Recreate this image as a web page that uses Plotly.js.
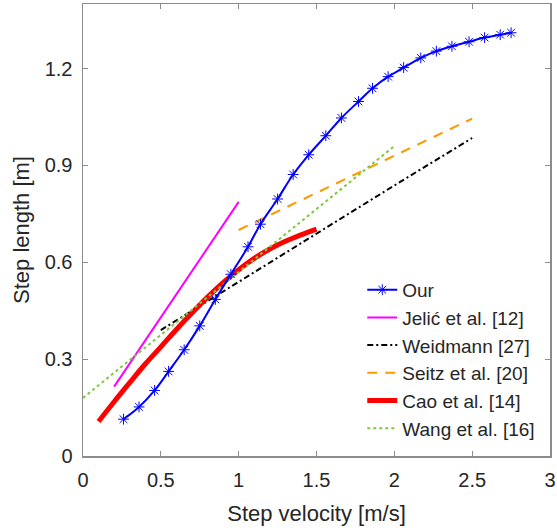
<!DOCTYPE html>
<html>
<head>
<meta charset="utf-8">
<script src="https://cdn.plot.ly/plotly-3.0.1.min.js"></script>
<style>html,body{margin:0;padding:0;background:#fff;}#chart{width:557px;height:530px;}</style>
</head>
<body>
<div id="chart"></div>
<script>
// Our (blue, asterisk markers)
const ourX = [0.26, 0.36, 0.46, 0.55, 0.65, 0.75, 0.85, 0.95, 1.06, 1.14, 1.25, 1.35, 1.45, 1.56, 1.66, 1.77, 1.86, 1.96, 2.06, 2.17, 2.27, 2.37, 2.48, 2.58, 2.68, 2.75];
const ourY = [0.114, 0.152, 0.203, 0.262, 0.329, 0.403, 0.485, 0.563, 0.648, 0.718, 0.796, 0.872, 0.933, 0.992, 1.047, 1.098, 1.139, 1.175, 1.203, 1.233, 1.254, 1.269, 1.283, 1.296, 1.305, 1.311];
// Jelić et al. [12]
const jelicX = [0.2, 1.0];
const jelicY = [0.215, 0.787];
// Weidmann [27]
const weidX = [0.5, 1.0, 1.5, 2.0, 2.5];
const weidY = [0.390, 0.540, 0.690, 0.838, 0.985];
// Seitz et al. [20]
const seitzX = [1.0, 2.5];
const seitzY = [0.700, 1.045];
// Cao et al. [14]
const caoX = [0.1, 0.2, 0.3, 0.4, 0.5, 0.6, 0.7, 0.8, 0.9, 1.0, 1.1, 1.2, 1.3, 1.4, 1.5];
const caoY = [0.107, 0.168, 0.227, 0.285, 0.338, 0.392, 0.443, 0.492, 0.537, 0.577, 0.612, 0.641, 0.665, 0.685, 0.703];
// Wang et al. [16]
const wangX = [0.0, 2.0];
const wangY = [0.180, 0.960];

const names = ['Our', 'Jelić et al. [12]', 'Weidmann [27]', 'Seitz et al. [20]', 'Cao et al. [14]', 'Wang et al. [16]'];
const xTicks = [0, 0.5, 1, 1.5, 2, 2.5, 3];
const yTicks = [0, 0.3, 0.6, 0.9, 1.2];

const FONT = 'Liberation Sans, Arial, sans-serif';

const traces = [
  {x: jelicX, y: jelicY, name: names[1], legendrank: 2, mode: 'lines', line: {color: '#ff00ff', width: 2}},
  {x: weidX, y: weidY, name: names[2], legendrank: 3, mode: 'lines', line: {color: '#000000', width: 2, dash: '6px,3px,2px,3px'}},
  {x: seitzX, y: seitzY, name: names[3], legendrank: 4, mode: 'lines', line: {color: '#ff9900', width: 2, dash: '10px,8px'}},
  {x: caoX, y: caoY, name: names[4], legendrank: 5, mode: 'lines', line: {color: '#ff0000', width: 5, shape: 'spline'}},
  {x: wangX, y: wangY, name: names[5], legendrank: 6, mode: 'lines', line: {color: '#7fc73c', width: 2, dash: 'dot'}},
  {x: ourX, y: ourY, name: names[0], legendrank: 1, mode: 'lines+markers', line: {color: '#0000ff', width: 2, shape: 'spline'},
   marker: {symbol: 'asterisk-open', size: 9, color: '#0000ff', line: {color: '#0000ff', width: 1}}}
];

const axisCommon = {
  showgrid: false, zeroline: false, showline: true, mirror: 'ticks',
  linecolor: '#8c8c8c', linewidth: 1.5, ticks: 'inside', ticklen: 5, tickwidth: 1, tickcolor: '#8c8c8c',
  tickfont: {family: FONT, size: 20, color: '#262626'}
};

const layout = {
  width: 557, height: 530,
  margin: {l: 83, r: 7, t: 4, b: 74},
  paper_bgcolor: '#ffffff', plot_bgcolor: '#ffffff',
  showlegend: true,
  xaxis: Object.assign({}, axisCommon, {
    range: [0, 3], tickvals: xTicks, ticktext: xTicks.map(String), ticklabelstandoff: 5,
    title: {text: 'Step velocity [m/s]', font: {family: FONT, size: 22, color: '#262626'}, standoff: 16}
  }),
  yaxis: Object.assign({}, axisCommon, {
    range: [0, 1.4], tickvals: yTicks, ticktext: yTicks.map(String), ticklabelstandoff: 5,
    title: {text: 'Step length [m]', font: {family: FONT, size: 22, color: '#262626'}, standoff: 9}
  }),
  legend: {
    x: 0.598, y: 0.018, xanchor: 'left', yanchor: 'bottom',
    bgcolor: 'rgba(255,255,255,0)', borderwidth: 0,
    font: {family: FONT, size: 19, color: '#262626'}
  }
};

Plotly.newPlot('chart', traces, layout, {displayModeBar: false, staticPlot: true});
</script>
</body>
</html>
